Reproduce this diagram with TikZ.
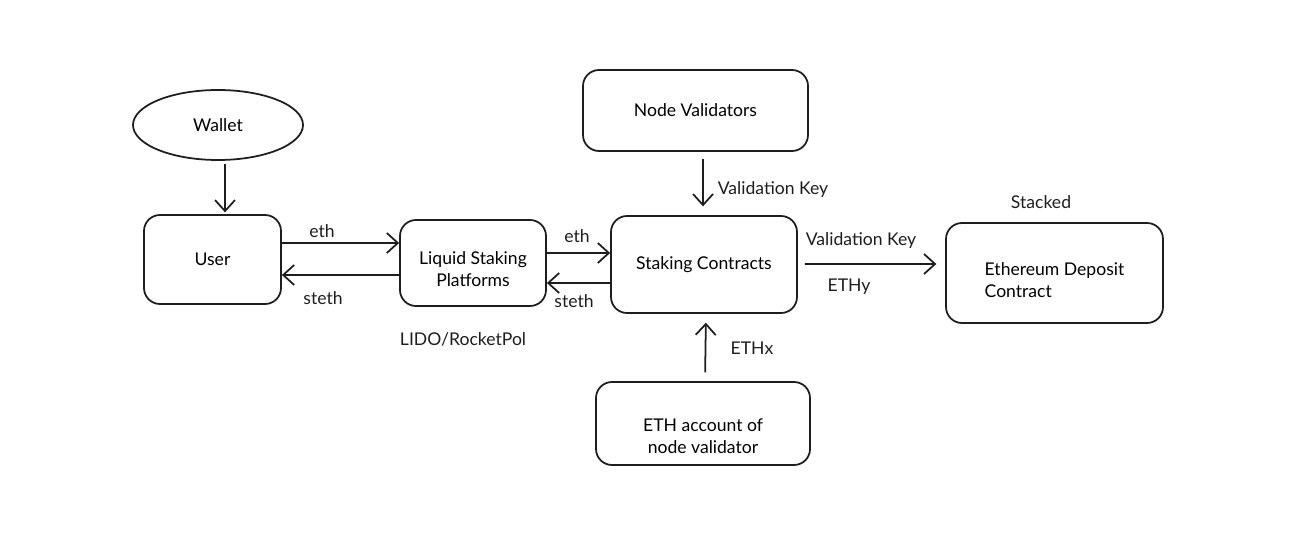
\documentclass[tikz,border=0pt]{standalone}
\usepackage{fontspec}
\setmainfont{Lato}
\usepackage{tikz}
\usetikzlibrary{shapes.geometric, arrows.meta, positioning}
\definecolor{InkBlack}{HTML}{1E1E1E}
\tikzset{
    % Rounded boxes, hand-drawn look
    block/.style={
        rectangle,
        rounded corners=0.32cm,
        draw=InkBlack,
        line width=1pt,
        align=center,
        font=\fontsize{10}{12.5}\selectfont
    },
    wallet shape/.style={
        ellipse,
        draw=InkBlack,
        line width=1pt,
        font=\fontsize{10}{12.5}\selectfont
    },
    tag/.style={
        text=InkBlack,
        font=\fontsize{10}{12.5}\selectfont
    },
    flow/.style={
        -{Straight Barb[length=2.2mm,width=4mm]},
        line width=1pt,
        InkBlack
    }
}
\begin{document}
\begin{tikzpicture}
        \useasboundingbox (0,0) rectangle (26.04,-10.86);

        % Main nodes
        \node[wallet shape, minimum width=3.4cm, minimum height=1.4cm] (wallet) at (4.36,-2.5) {Wallet};
        \node[block, minimum width=2.74cm, minimum height=1.78cm] (user) at (4.25,-5.19) {User};
        \node[block, minimum width=2.92cm, minimum height=1.72cm, text height=0.94cm] (liquid) at (9.46,-5.26) {Liquid Staking\\Platforms};
        \node[block, minimum width=4.5cm, minimum height=1.62cm] (validators) at (13.91,-2.21) {Node Validators};
        \node[block, minimum width=3.72cm, minimum height=1.94cm] (staking) at (14.08,-5.29) {Staking Contracts};
        \node[block, minimum width=4.28cm, minimum height=1.66cm, text height=1.22cm] (account) at (14.06,-8.47) {ETH account of\\node validator};
        \node[block, minimum width=4.34cm, minimum height=2cm, align=left, text height=1.0cm] (deposit) at (21.09,-5.46) {Ethereum Deposit\\Contract};

        % Labels
        \node[tag] (ethA) at (6.44,-4.62) {eth};
        \node[tag] (stethA) at (6.46,-5.96) {steth};
        \node[tag] (ethB) at (11.54,-4.72) {eth};
        \node[tag] (stethB) at (11.48,-6.02) {steth};
        \node[tag] (keyA) at (15.46,-3.8) {Validation Key};
        \node[tag] (keyB) at (17.22,-4.82) {Validation Key};
        \node[tag] (ethy) at (16.98,-5.74) {ETHy};
        \node[tag] (ethx) at (15.04,-6.96) {ETHx};
        \node[tag] (stacked) at (20.82,-4.04) {Stacked};
        \node[tag] (lido) at (9.26,-6.78) {LIDO/RocketPol};

        % Connectors
        \draw[flow, shorten <=2pt, shorten >=1pt] ([xshift=0.14cm]wallet.south) -- ([xshift=0.14cm]wallet.south |- user.north);
        \draw[flow] ([yshift=0.33cm]user.east) -- ([yshift=0.4cm]liquid.west);
        \draw[flow] ([yshift=-0.24cm]liquid.west) -- ([yshift=-0.31cm]user.east);
        \draw[flow] ([yshift=0.2cm]liquid.east) -- ([yshift=0.23cm]staking.west);
        \draw[flow] ([yshift=-0.37cm]staking.west) -- ([yshift=-0.4cm]liquid.east);
        \draw[flow, shorten <=4pt, shorten >=5pt] ([xshift=-0.02cm]staking.north |- validators.south) -- ([xshift=-0.02cm]staking.north);
        \draw[flow, shorten <=4pt, shorten >=5pt] ([yshift=0.01cm]staking.east) -- ([yshift=0.18cm]deposit.west);
        \draw[flow, shorten <=5pt, shorten >=5pt] ([xshift=0.04cm]account.north) -- ([xshift=0.04cm]staking.south);
    \end{tikzpicture}
\end{document}
